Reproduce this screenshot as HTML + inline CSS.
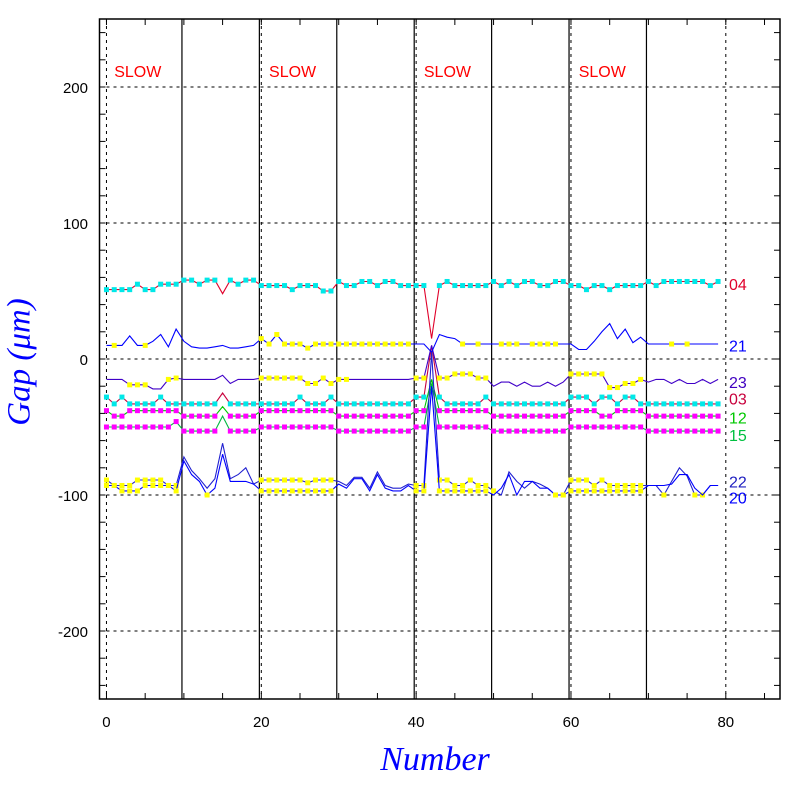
<!DOCTYPE html>
<html><head><meta charset="utf-8"><style>body{margin:0;background:#fff}svg{display:block}</style></head>
<body>
<svg id="chart" width="797" height="797" viewBox="0 0 797 797" xmlns="http://www.w3.org/2000/svg" font-family="Liberation Sans, sans-serif">
<rect width="797" height="797" fill="#fff"/>
<g id="grid"></g>
<g id="series"></g>
<g id="frame"></g>
<text x="22" y="362" transform="rotate(-90 22 362)" text-anchor="middle" dominant-baseline="middle" font-family="Liberation Serif, serif" font-style="italic" font-size="33" fill="#0000ff">Gap (μm)</text>
<text x="435" y="770" text-anchor="middle" font-family="Liberation Serif, serif" font-style="italic" font-size="34" fill="#0000ff">Number</text>
</svg>
<script>
const xTicks=[0,20,40,60,80];
const yTicks=[-200,-100,0,100,200];
const separators=[9.75,19.75,29.75,39.75,49.75,59.75,69.75];
const slowLabels=[1,21,41,61];
const s04=[51,51,51,51,55,51,51,55,55,55, 58,58,55,58,58,48,58,55,58,58, 54,54,54,54,51,54,54,54,50,50, 57,54,54,57,57,54,57,57,54,54, 54,54,15,54,57,54,54,54,54,54, 57,54,57,54,57,57,54,54,57,57, 54,54,51,54,54,51,54,54,54,54, 57,54,57,57,57,57,57,57,54,57];
const mStd=["1111111111","1111101111","1111111111","1111111111","1101111111","1111111111","1111111111","1111111111"].join('');
const m04=mStd;
const s21=[10,10,10,17,10,10,13,18,9,22, 13,9,8,8,9,10,8,8,9,10, 15,11,18,11,11,11,8,11,11,11, 11,11,11,11,11,11,11,11,11,11, 11,11,5,18,16,15,11,11,11,11, 11,11,11,11,11,11,11,11,11,11, 11,7,7,13,20,26,15,22,12,16, 11,11,11,11,11,11,11,11,11,11];
const m21=["0100010000","0000000000","1111111111","1111111111","0000001010","0111011110","0000000000","0001010000"].join('');
const s23=[-15,-15,-15,-19,-19,-19,-22,-22,-15,-14, -15,-15,-15,-15,-15,-12,-18,-15,-15,-15, -14,-14,-14,-14,-14,-14,-18,-18,-14,-18, -15,-15,-15,-15,-15,-15,-15,-15,-15,-15, -14,-14,10,-14,-14,-11,-11,-11,-14,-14, -20,-17,-17,-20,-17,-20,-20,-17,-20,-17, -11,-11,-11,-11,-11,-21,-21,-18,-18,-15, -17,-15,-15,-18,-15,-18,-18,-15,-18,-15];
const m23=["0001110011","0000000000","1111111111","1100000000","1101111111","0000000000","1111111111","0000000000"].join('');
const s03=[-28,-33,-28,-33,-33,-33,-33,-28,-33,-33, -33,-33,-33,-33,-33,-25,-33,-33,-33,-33, -33,-33,-33,-33,-33,-28,-33,-33,-33,-28, -33,-33,-33,-33,-33,-33,-33,-33,-33,-33, -28,-28,10,-28,-33,-33,-33,-33,-33,-28, -33,-33,-33,-33,-33,-33,-33,-33,-33,-33, -28,-28,-28,-33,-28,-28,-33,-28,-28,-33, -33,-33,-33,-33,-33,-33,-33,-33,-33,-33];
const m03=mStd;
const s12=[-38,-42,-42,-38,-38,-38,-38,-38,-38,-38, -42,-42,-42,-42,-42,-35,-42,-42,-42,-42, -38,-38,-38,-38,-38,-38,-38,-38,-38,-38, -42,-42,-42,-42,-42,-42,-42,-42,-42,-42, -38,-38,-15,-38,-38,-38,-38,-38,-38,-38, -42,-42,-42,-42,-42,-42,-42,-42,-42,-42, -38,-38,-38,-38,-42,-42,-38,-38,-38,-38, -42,-42,-42,-42,-42,-42,-42,-42,-42,-42];
const m12=mStd;
const s15=[-50,-50,-50,-50,-50,-50,-50,-50,-50,-46, -53,-53,-53,-53,-53,-42,-53,-53,-53,-53, -50,-50,-50,-50,-50,-50,-50,-50,-50,-50, -53,-53,-53,-53,-53,-53,-53,-53,-53,-53, -50,-50,-18,-50,-50,-50,-50,-50,-50,-50, -53,-53,-53,-53,-53,-53,-53,-53,-53,-53, -50,-50,-50,-50,-50,-50,-50,-50,-50,-50, -53,-53,-53,-53,-53,-53,-53,-53,-53,-53];
const m15=mStd;
const s22=[-89,-93,-93,-93,-89,-89,-89,-89,-93,-93, -72,-82,-88,-95,-88,-62,-88,-85,-80,-92, -89,-89,-89,-89,-89,-89,-91,-89,-89,-89, -90,-93,-87,-87,-95,-83,-93,-95,-95,-92, -93,-93,5,-89,-89,-93,-93,-89,-93,-93, -97,-100,-83,-90,-95,-90,-92,-95,-100,-100, -89,-89,-89,-93,-89,-93,-93,-93,-93,-93, -93,-93,-100,-90,-80,-86,-100,-100,-93,-93];
const m22=["1111111111","0000000000","1111111111","0000000000","1101111111","1000000011","1111111111","0010001100"].join('');
const s20=[-93,-93,-97,-97,-97,-93,-93,-93,-93,-97, -75,-85,-90,-100,-95,-70,-90,-90,-90,-92, -97,-97,-97,-97,-97,-97,-97,-97,-97,-97, -92,-95,-88,-88,-97,-85,-95,-97,-97,-93, -97,-97,-20,-97,-97,-97,-97,-97,-97,-97, -100,-95,-85,-100,-90,-90,-95,-95,-100,-100, -97,-97,-97,-97,-97,-97,-97,-97,-97,-97, -93,-93,-93,-92,-85,-85,-95,-100,-93,-93];
const m20=["1111111111","0001000000","1111111111","0000000000","1101111111","0000000011","1111111111","0000000000"].join('');
const seriesList=[
 {id:'04',v:s04,m:m04,line:'#e0002a',mk:'#00e8e8',lab:'#e0002a'},
 {id:'03',v:s03,m:m03,line:'#c8003c',mk:'#00e8e8',lab:'#c8003c'},
 {id:'12',v:s12,m:m12,line:'#00c800',mk:'#ff00ff',lab:'#00c800'},
 {id:'15',v:s15,m:m15,line:'#00b840',mk:'#ff00ff',lab:'#00c040'},
 {id:'23',v:s23,m:m23,line:'#4000c8',mk:'#ffff00',lab:'#4000c0'},
 {id:'21',v:s21,m:m21,line:'#0000ff',mk:'#ffff00',lab:'#0000ff'},
 {id:'22',v:s22,m:m22,line:'#2020d0',mk:'#ffff00',lab:'#2020c0'},
 {id:'20',v:s20,m:m20,line:'#0000ff',mk:'#ffff00',lab:'#0000ff'}];
const labelVals=[['04',55],['21',10],['23',-17],['03',-29],['12',-43],['15',-56],['22',-90],['20',-102]];

const NS='http://www.w3.org/2000/svg';
const X0=99.5,X1=780,Y0=19,Y1=699,XMIN=-0.9,XMAX=87,YMIN=-250,YMAX=250;
const sx=v=>X0+(v-XMIN)/(XMAX-XMIN)*(X1-X0);
const sy=v=>Y1-(v-YMIN)/(YMAX-YMIN)*(Y1-Y0);
function mk(tag,attrs,parent){const e=document.createElementNS(NS,tag);for(const k in attrs)e.setAttribute(k,attrs[k]);parent.appendChild(e);return e;}
const grid=document.getElementById('grid'),ser=document.getElementById('series'),frame=document.getElementById('frame');
xTicks.forEach(t=>{const l=mk('line',{x1:sx(t),x2:sx(t),y1:Y0,y2:Y1,stroke:'#000','stroke-dasharray':'3,4','stroke-width':1},grid);
 
 const tx=mk('text',{x:sx(t),y:727,'text-anchor':'middle','font-size':15,fill:'#000'},frame);tx.textContent=t;
 });
yTicks.forEach(t=>{const l=mk('line',{x1:X0,x2:X1,y1:sy(t),y2:sy(t),stroke:'#000','stroke-dasharray':'3,4','stroke-width':1},grid);
 
 const tx=mk('text',{x:88,y:sy(t)+6,'text-anchor':'end','font-size':15,fill:'#000'},frame);tx.textContent=t;
 });
separators.forEach(t=>{const l=mk('line',{x1:sx(t),x2:sx(t),y1:Y0,y2:Y1,stroke:'#000','stroke-width':1.2},grid);
 });
slowLabels.forEach(t=>{const tx=mk('text',{x:sx(t),y:77,'font-size':16,fill:'#ff0000'},grid);tx.textContent='SLOW';
 });
seriesList.forEach(s=>{
 const pts=s.v.map((v,i)=>sx(i).toFixed(1)+','+sy(v).toFixed(1)).join(' ');
 const pl=mk('polyline',{points:pts,fill:'none',stroke:s.line,'stroke-width':1.1},ser);
 
 s.v.forEach((v,i)=>{if(s.m[i]==='1'){const r=mk('rect',{x:sx(i)-2.5,y:sy(v)-2.5,width:5,height:5,fill:s.mk},ser);
  }});
});
labelVals.forEach(([id,v])=>{const s=seriesList.find(q=>q.id===id);
 const tx=mk('text',{x:729,y:sy(v)+6,'font-size':16,fill:s.lab},frame);tx.textContent=id;
 });
const fr=mk('rect',{x:X0,y:Y0,width:X1-X0,height:Y1-Y0,fill:'none',stroke:'#000','stroke-width':1.5},frame);

for(let t=0;t<=85;t+=5){[[Y1,Y1-6],[Y0,Y0+6]].forEach(([a,b])=>{const l=mk('line',{x1:sx(t),x2:sx(t),y1:a,y2:b,stroke:'#000'},frame);
 });}
for(let t=-240;t<=240;t+=20){[[X0,X0+6],[X1,X1-6]].forEach(([a,b])=>{const l=mk('line',{x1:a,x2:b,y1:sy(t),y2:sy(t),stroke:'#000'},frame);
 });}
</script>
</body></html>
